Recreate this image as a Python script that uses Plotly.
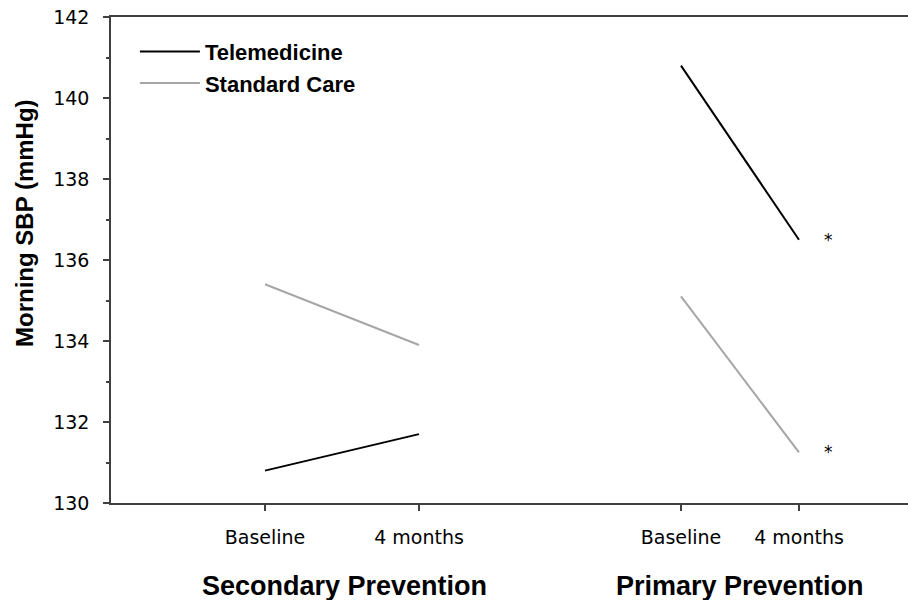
import plotly.graph_objects as go

# ---- data ----
timepoints = ["Baseline", "4 months"]
time_pos = [1, 2]
groups = ["Secondary Prevention", "Primary Prevention"]
telemed_secondary = [130.8, 131.7]
standard_secondary = [135.4, 133.9]
telemed_primary = [140.8, 136.5]
standard_primary = [135.1, 131.25]
sig_primary = [136.5, 131.25]  # values flagged with *
y_ticks = [130, 132, 134, 136, 138, 140, 142]

BLACK = "#000000"
GREY = "#a6a6a6"
AXIS = "#404040"
TICKFONT = dict(family="DejaVu Sans", size=19, color="#000000")
BOLD = "Liberation Sans"

fig = go.Figure()

fig.add_trace(go.Scatter(x=time_pos, y=telemed_secondary, mode="lines",
                         line=dict(color=BLACK, width=2), name="Telemedicine",
                         xaxis="x", yaxis="y", legendgroup="t"))
fig.add_trace(go.Scatter(x=time_pos, y=standard_secondary, mode="lines",
                         line=dict(color=GREY, width=2), name="Standard Care",
                         xaxis="x", yaxis="y", legendgroup="s"))
fig.add_trace(go.Scatter(x=time_pos, y=telemed_primary, mode="lines",
                         line=dict(color=BLACK, width=2), name="Telemedicine",
                         xaxis="x2", yaxis="y2", legendgroup="t", showlegend=False))
fig.add_trace(go.Scatter(x=time_pos, y=standard_primary, mode="lines",
                         line=dict(color=GREY, width=2), name="Standard Care",
                         xaxis="x2", yaxis="y2", legendgroup="s", showlegend=False))

for v in sig_primary:
    fig.add_annotation(x=2.25, y=v, xref="x2", yref="y2", text="*", showarrow=False,
                       font=dict(family="DejaVu Sans", size=17, color="#000000"),
                       xanchor="center", yanchor="middle")

W, H = 908, 600
ml, mr, mt, mb = 111, 0, 17, 97
pw = W - ml - mr
ph = H - mt - mb
left_end = (573 - ml) / pw
right_start = (563 - ml) / pw

axis_common = dict(showline=True, linecolor=AXIS, linewidth=1.5, ticks="outside",
                   ticklen=6, tickwidth=1.5, tickcolor=AXIS, showgrid=False,
                   zeroline=False, tickfont=TICKFONT, fixedrange=True, automargin=False)

fig.update_layout(
    width=W, height=H,
    margin=dict(l=ml, r=mr, t=mt, b=mb, autoexpand=False),
    paper_bgcolor="white", plot_bgcolor="white",
    xaxis=dict(domain=[0, left_end], range=[0, 3], tickvals=time_pos,
               ticktext=timepoints, mirror=True, ticklabelstandoff=10, **axis_common),
    xaxis2=dict(domain=[right_start, 1], range=[0, 2.924], tickvals=time_pos,
                ticktext=timepoints, mirror=True, anchor="y2", ticklabelstandoff=10,
                **axis_common),
    yaxis=dict(range=[130, 142], tickvals=y_ticks, ticklabelstandoff=10,
               minor=dict(dtick=1, ticks="outside", ticklen=3, tickcolor=AXIS, tickwidth=1.5),
               **axis_common),
    yaxis2=dict(range=[130, 142], anchor="x2", showline=False, showticklabels=False,
                ticks="", showgrid=False, zeroline=False, fixedrange=True, automargin=False),
    legend=dict(x=0.03, y=0.972, xanchor="left", yanchor="top",
                font=dict(family=BOLD, size=22, color="#000000", weight="bold"),
                bgcolor="rgba(0,0,0,0)", tracegroupgap=0, itemwidth=60),
    showlegend=True,
)

fig.add_annotation(text="<b>Morning SBP (mmHg)</b>", xref="paper", yref="paper",
                   x=(25 - ml) / pw, y=(503 - 223) / ph, textangle=-90, showarrow=False,
                   font=dict(family=BOLD, size=24, color="#000000"),
                   xanchor="center", yanchor="middle")
centers = [344.5, 740]
for g, cx in zip(groups, centers):
    fig.add_annotation(text="<b>" + g + "</b>", xref="paper", yref="paper",
                       x=(cx - ml) / pw, y=(503 - 569) / ph, showarrow=False,
                       font=dict(family=BOLD, size=27, color="#000000"),
                       xanchor="center", yanchor="top")

fig.write_html("out.html", config={"displayModeBar": False},
               post_script="document.body.style.margin='0';document.body.style.overflow='hidden';")
